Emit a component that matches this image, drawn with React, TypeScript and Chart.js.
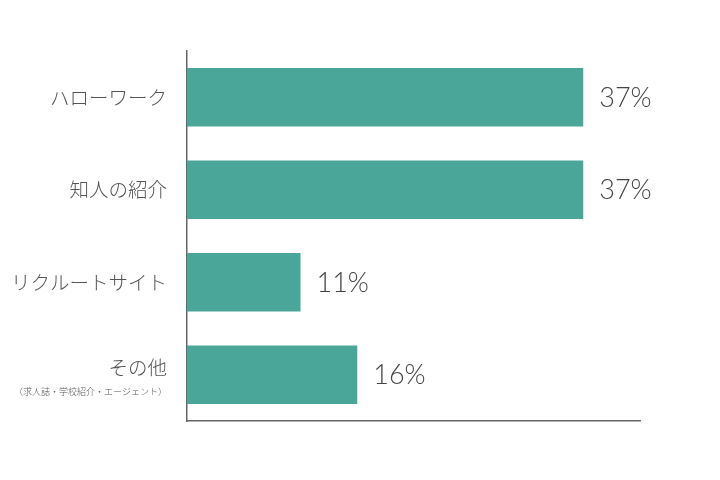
import React, { useEffect, useRef } from "react";
import { Chart, registerables } from "chart.js";

Chart.register(...registerables);

const categories = ["ハローワーク", "知人の紹介", "リクルートサイト", "その他"];
const subLabels = ["", "", "", "（求人誌・学校紹介・エージェント）"];
const values = [37, 37, 10.6, 15.9];
const valueLabels = ["37%", "37%", "11%", "16%"];
const axisMax = 42.3;

const labelPlugin = {
  id: "customLabels",
  afterDatasetsDraw(chart: any) {
    const { ctx } = chart;
    const yScale = chart.scales.y;
    const meta = chart.getDatasetMeta(0);
    ctx.save();
    categories.forEach((cat, i) => {
      const y = yScale.getPixelForValue(i);
      ctx.fillStyle = "#555555";
      ctx.textAlign = "right";
      ctx.textBaseline = "middle";
      if (subLabels[i]) {
        ctx.font = "300 19.5px 'Noto Sans CJK JP'";
        ctx.fillText(cat, 167, y - 7);
        ctx.font = "300 9px 'Noto Sans CJK JP'";
        ctx.fillText(subLabels[i], 167, y + 17);
      } else {
        ctx.font = "300 19.5px 'Noto Sans CJK JP'";
        ctx.fillText(cat, 167, y);
      }
      const bar = meta.data[i];
      ctx.fillStyle = "#444444";
      ctx.textAlign = "left";
      ctx.font = "300 27px Lato";
      ctx.fillText(valueLabels[i], bar.x + 16, y + 1);
    });
    ctx.restore();
  },
};

export default function App() {
  const ref = useRef<HTMLCanvasElement>(null);
  useEffect(() => {
    document.body.style.margin = "0";
    const chart = new Chart(ref.current!, {
      type: "bar",
      data: {
        labels: categories,
        datasets: [
          {
            data: values,
            backgroundColor: "#4aa699",
            borderWidth: 0,
            barPercentage: 0.63,
            categoryPercentage: 1,
          },
        ],
      },
      options: {
        indexAxis: "y",
        animation: false,
        responsive: false,
        layout: { padding: { left: 187, top: 51, right: 80, bottom: 59 } },
        plugins: { legend: { display: false }, tooltip: { enabled: false } },
        scales: {
          x: {
            min: 0,
            max: axisMax,
            grid: { display: false },
            ticks: { display: false },
            border: { display: true, color: "#666666", width: 1.5 },
            afterFit: (s: any) => { s.height = 0; },
          },
          y: {
            grid: { display: false },
            ticks: { display: false },
            border: { display: true, color: "#666666", width: 1.5 },
            afterFit: (s: any) => { s.width = 0; },
          },
        },
      },
      plugins: [labelPlugin],
    });
    return () => chart.destroy();
  }, []);
  return (
    <div style={{ position: "absolute", left: 0, top: 0, width: 720, height: 480, background: "#fff" }}>
      <canvas ref={ref} width={720} height={480} />
    </div>
  );
}
